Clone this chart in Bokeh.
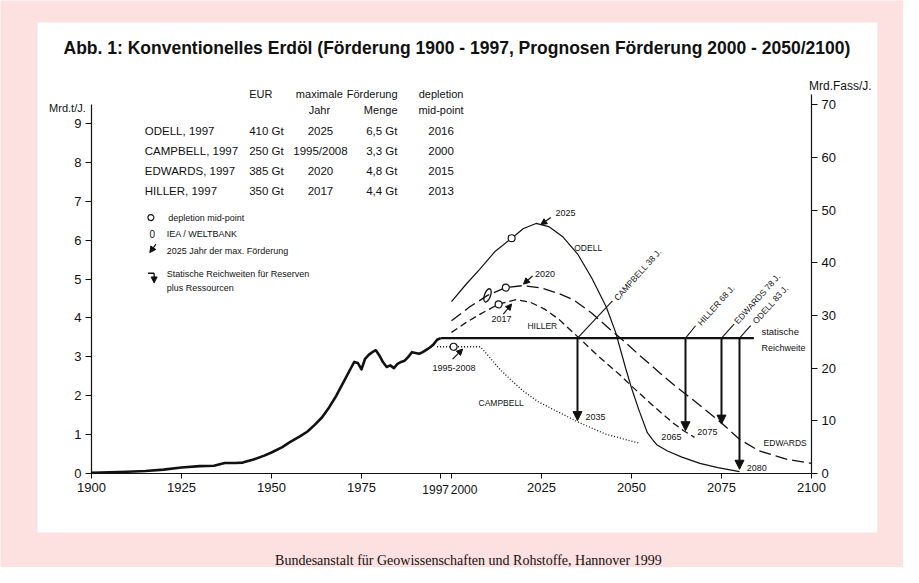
from bokeh.plotting import figure
from bokeh.models import Range1d, LinearAxis, FixedTicker, ColumnDataSource, Arrow, NormalHead
from bokeh.core.properties import value
from bokeh.embed import file_html
from bokeh.resources import INLINE

# ---------------- data ----------------
TITLE = "Abb. 1: Konventionelles Erdöl (Förderung 1900 - 1997, Prognosen Förderung 2000 - 2050/2100)"
SOURCE = "Bundesanstalt für Geowissenschaften und Rohstoffe, Hannover 1999"
Y_LEFT_LABEL = "Mrd.t/J."
Y_RIGHT_LABEL = "Mrd.Fass/J."
X_TICKS = [1900, 1925, 1950, 1975, 1997, 2000, 2025, 2050, 2075, 2100]
Y_TICKS = list(range(0, 10))
Y2_TICKS = list(range(0, 80, 10))

hist_years = [1900, 1905, 1910, 1915, 1920, 1925, 1930, 1934, 1937, 1940, 1942, 1945, 1948, 1950,
              1953, 1955, 1958, 1960, 1962, 1964, 1966, 1968, 1970, 1972, 1973, 1974, 1975, 1976,
              1977, 1978, 1979, 1980, 1981, 1982, 1983, 1984, 1985, 1986, 1987, 1988, 1989, 1990,
              1991, 1992, 1993, 1994, 1995, 1996, 1997]
hist_vals = [0.02, 0.03, 0.045, 0.065, 0.10, 0.155, 0.19, 0.20, 0.27, 0.27, 0.28, 0.36, 0.46, 0.54,
             0.68, 0.80, 0.96, 1.08, 1.25, 1.44, 1.70, 2.00, 2.35, 2.70, 2.87, 2.84, 2.68, 2.95,
             3.05, 3.12, 3.17, 3.03, 2.86, 2.74, 2.78, 2.71, 2.82, 2.87, 2.90, 3.00, 3.12, 3.10,
             3.08, 3.12, 3.18, 3.24, 3.32, 3.44, 3.48]

odell_years = [2000, 2004, 2008, 2012, 2016.7, 2020, 2023.5, 2027, 2031, 2035, 2039, 2043, 2045.6,
               2048.4, 2050, 2052, 2054.4, 2055.8, 2057, 2060, 2064, 2069, 2074, 2080]
odell_vals = [4.42, 4.86, 5.27, 5.70, 6.05, 6.30, 6.43, 6.35, 6.08, 5.65, 5.02, 4.28, 3.63,
              2.70, 2.20, 1.65, 1.05, 0.88, 0.74, 0.58, 0.42, 0.26, 0.15, 0.05]

edwards_years = [2000, 2005, 2010, 2015, 2019.7, 2025, 2030, 2034, 2039, 2044, 2047, 2052, 2057.7,
                 2062, 2067, 2071, 2075, 2080, 2085.5, 2093, 2100]
edwards_vals = [3.93, 4.28, 4.58, 4.78, 4.83, 4.77, 4.62, 4.46, 4.12, 3.71, 3.48, 3.06, 2.60,
                2.26, 1.90, 1.60, 1.30, 0.88, 0.58, 0.37, 0.26]

hiller_years = [2000, 2004, 2008, 2013, 2018, 2022, 2026, 2030, 2035.5, 2041, 2046.6, 2050, 2054,
                2058, 2061.4, 2064.5, 2067.5]
hiller_vals = [3.63, 3.88, 4.10, 4.35, 4.47, 4.40, 4.22, 3.95, 3.48, 3.00, 2.55, 2.25, 1.91,
               1.58, 1.31, 1.10, 0.93]

campbell_years = [1996, 2000.6, 2004, 2008, 2010.5, 2013.2, 2016, 2019.8, 2024, 2029.9, 2035.5,
                  2042.9, 2052.1]
campbell_vals = [3.26, 3.26, 3.26, 3.26, 3.00, 2.70, 2.45, 2.13, 1.85, 1.57, 1.31, 1.01, 0.78]

# depletion mid-points (year, value) : ODELL, CAMPBELL, EDWARDS, HILLER
mid_years = [2016.7, 2000.6, 2015.1, 2013.1]
mid_vals = [6.05, 3.26, 4.78, 4.35]
# IEA / Weltbank
iea_years = [2010]
iea_vals = [4.58]

# static range (statische Reichweite)
reich_start = 1997
reich_level = 3.48
reich_end = 2084
reich_names = ["CAMPBELL", "HILLER", "EDWARDS", "ODELL"]
reich_spans = [38, 68, 78, 83]
reich_tip_vals = [1.36, 1.10, 1.27, 0.11]

# table
tab_names = ["ODELL, 1997", "CAMPBELL, 1997", "EDWARDS, 1997", "HILLER, 1997"]
tab_eur = ["410 Gt", "250 Gt", "385 Gt", "350 Gt"]
tab_peak_year = ["2025", "1995/2008", "2020", "2017"]
tab_peak_amount = ["6,5 Gt", "3,3 Gt", "4,8 Gt", "4,4 Gt"]
tab_midpoint = ["2016", "2000", "2015", "2013"]

# ---------------- figure ----------------
PINK = "#fde0e0"
INK = "#111111"
FONT = "Liberation Sans"

p = figure(width=903, height=567, output_backend="svg", toolbar_location=None,
           x_range=Range1d(1874.72, 2125.56), y_range=Range1d(-2.417, 12.163),
           min_border=0, x_axis_location=None, y_axis_location=None)
p.extra_y_ranges = {"r": Range1d(-17.84, 89.76)}
p.background_fill_color = PINK
p.border_fill_color = PINK
p.outline_line_color = None
p.xgrid.visible = False
p.ygrid.visible = False

# white panel
p.quad(left=[1885.0], right=[2118.3], top=[11.6], bottom=[-1.52], fill_color="white", line_color=None)


def style_axis(ax):
    ax.axis_line_color = INK
    ax.axis_line_width = 1.2
    ax.major_tick_line_color = INK
    ax.major_tick_out = 6
    ax.major_tick_in = 0
    ax.minor_tick_out = 0
    ax.minor_tick_in = 0
    ax.major_label_text_font = FONT
    ax.major_label_text_font_size = "13px"
    ax.major_label_text_color = INK
    ax.major_label_standoff = 4


yl = LinearAxis(fixed_location=1900, ticker=FixedTicker(ticks=Y_TICKS), bounds=(0, 9.5))
style_axis(yl)
p.add_layout(yl, "left")
yr = LinearAxis(y_range_name="r", fixed_location=2100, ticker=FixedTicker(ticks=Y2_TICKS), bounds=(0, 72))
style_axis(yr)
p.add_layout(yr, "right")
xb = LinearAxis(fixed_location=0, ticker=FixedTicker(ticks=X_TICKS), bounds=(1900, 2100),
                major_label_overrides={1997: "", 2000: ""})
style_axis(xb)
xb.major_tick_out = 5
p.add_layout(xb, "below")


def txt(x, y, s, size, align="left", baseline="middle", angle=0.0, style="normal", font=FONT):
    p.text(x=[x], y=[y], text=[s], text_font=value(font), text_font_size=f"{size}px",
           text_align=align, text_baseline=baseline, angle=angle, text_font_style=style,
           text_color=INK)


# tick labels for the close pair 1997 / 2000
txt(1995.6, -0.42, "1997", 12, align="center")
txt(2003.5, -0.42, "2000", 12, align="center")

# curves
p.line(hist_years, hist_vals, line_color=INK, line_width=2.6, line_join="round")
p.line([reich_start, reich_end], [reich_level, reich_level], line_color=INK, line_width=2.4)
p.line(odell_years, odell_vals, line_color=INK, line_width=1.2)
p.line(edwards_years, edwards_vals, line_color=INK, line_width=1.3, line_dash="12 5")
p.line(hiller_years, hiller_vals, line_color=INK, line_width=1.3, line_dash="7 4")
p.line(campbell_years, campbell_vals, line_color=INK, line_width=1.3, line_dash="1 2")

# mid-points and IEA mark
p.scatter(mid_years, mid_vals, marker="circle", size=7, fill_color="white", line_color=INK, line_width=1.2)
p.ellipse(x=iea_years, y=iea_vals, width=6, height=14, width_units="screen", height_units="screen",
          angle=-0.35, fill_color=None, line_color=INK, line_width=1.3)

# static-range arrows
reich_years = [reich_start + s for s in reich_spans]
src = ColumnDataSource(dict(x=reich_years, y0=[reich_level] * 4, y1=reich_tip_vals))
p.add_layout(Arrow(source=src, x_start="x", y_start="y0", x_end="x", y_end="y1", line_width=2,
                   line_color=INK, end=NormalHead(size=9, fill_color=INK, line_color=INK)))

# leaders and rotated labels
lead_dx = [9.7, 2.8, 3.5, 3.1]
lead_dy = [0.96, 0.32, 0.36, 0.32]
lab_x = [2045.6, 2068.8, 2079.0, 2084.1]
lab_y = [4.48, 3.84, 3.88, 3.88]
for i, yr_ in enumerate(reich_years):
    p.line([yr_, yr_ + lead_dx[i]], [reich_level, reich_level + lead_dy[i]], line_color=INK, line_width=1.1)
    txt(lab_x[i], lab_y[i], f"{reich_names[i]} {reich_spans[i]} J.", 8.5, angle=0.84)

# end year labels of arrows
txt(2037.2, 1.46, str(reich_years[0]), 9)
txt(2058.3, 0.93, str(reich_years[1]), 9)
txt(2068.3, 1.08, str(reich_years[2]), 9)
txt(2082.0, 0.14, str(reich_years[3]), 9)

# max-production arrows
small = dict(line_width=1.2, line_color=INK)
def sarrow(x0, y0, x1, y1):
    p.add_layout(Arrow(x_start=x0, y_start=y0, x_end=x1, y_end=y1,
                       end=NormalHead(size=6, fill_color=INK, line_color=INK), **small))

sarrow(2027.6, 6.58, 2024.8, 6.40)
sarrow(2022.5, 5.08, 2020.0, 4.87)
sarrow(2014.4, 4.10, 2016.7, 4.36)
sarrow(2000.3, 2.94, 2003.1, 3.20)

# curve labels
txt(2028.9, 6.71, "2025", 9)
txt(2034.1, 5.81, "ODELL", 8.5)
txt(2023.2, 5.12, "2020", 9)
txt(2011.1, 3.97, "2017", 9)
txt(2021.1, 3.80, "HILLER", 8.5)
txt(1994.7, 2.71, "1995-2008", 9)
txt(2007.5, 1.81, "CAMPBELL", 8.5)
txt(2086.7, 0.78, "EDWARDS", 8.5)
txt(2086.1, 3.65, "statische", 9.5)
txt(2086.1, 3.24, "Reichweite", 9)

# legend
p.scatter([1916.5], [6.58], marker="circle", size=6, fill_color="white", line_color=INK, line_width=1.1)
txt(1921.3, 6.58, "depletion mid-point", 9)
txt(1916.9, 6.17, "0", 10, align="center")
txt(1920.9, 6.17, "IEA / WELTBANK", 9)
sarrow(1917.9, 5.90, 1916.2, 5.68)
txt(1920.9, 5.71, "2025 Jahr der max. Förderung", 9)
p.line([1915.7, 1917.4], [5.15, 5.15], line_color=INK, line_width=1.3)
p.add_layout(Arrow(x_start=1917.4, y_start=5.15, x_end=1917.4, y_end=4.90, line_width=1.3, line_color=INK,
                   end=NormalHead(size=6, fill_color=INK, line_color=INK)))
txt(1920.9, 5.14, "Statische Reichweiten für Reserven", 9)
txt(1920.9, 4.78, "plus Ressourcen", 9)

# table
TS = 11
hdr1, hdr2 = 9.75, 9.35
txt(1943.8, hdr1, "EUR", TS)
txt(1963.3, hdr1, "maximale", TS, align="center")
txt(1963.3, hdr2, "Jahr", TS, align="center")
txt(1985.0, hdr1, "Förderung", TS, align="right")
txt(1985.0, hdr2, "Menge", TS, align="right")
txt(1997.1, hdr1, "depletion", TS, align="center")
txt(1997.1, hdr2, "mid-point", TS, align="center")
row_y = [8.82, 8.30, 7.79, 7.27]
for i in range(4):
    txt(1914.8, row_y[i], tab_names[i], 11.5)
    txt(1943.8, row_y[i], tab_eur[i], 11.5)
    txt(1963.6, row_y[i], tab_peak_year[i], 11.5, align="center")
    txt(1985.0, row_y[i], tab_peak_amount[i], 11.5, align="right")
    txt(1997.1, row_y[i], tab_midpoint[i], 11.5, align="center")

# axis unit labels
txt(1898.4, 9.41, Y_LEFT_LABEL, 11, align="right")
txt(2099.3, 9.97, Y_RIGHT_LABEL, 12)

# title and source
txt(2001.5, 10.95, TITLE, 17.5, align="center", style="bold")
txt(2004.7, -2.24, SOURCE, 14, align="center", font="Liberation Serif")

open("out.html", "w").write(file_html(p, INLINE))
